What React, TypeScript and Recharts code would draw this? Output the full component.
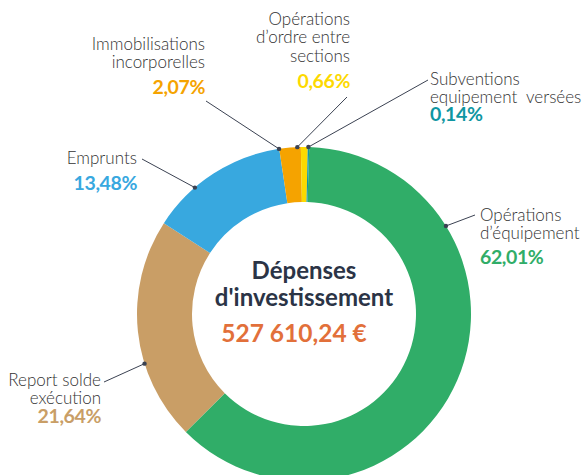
import React from "react";
import { PieChart, Pie, Cell, Label } from "recharts";

// ---- data ----
const categories = [
  "Opérations d'équipement",
  "Report solde exécution",
  "Emprunts",
  "Immobilisations incorporelles",
  "Opérations d'ordre entre sections",
  "Subventions equipement versées",
];
const values = [62.01, 21.64, 13.48, 2.07, 0.66, 0.14];
const percentLabels = ["62,01%", "21,64%", "13,48%", "2,07%", "0,66%", "0,14%"];
const labelTextLines = [
  ["Opérations", "d\u2019équipement"],
  ["Report solde", "exécution"],
  ["Emprunts"],
  ["Immobilisations", "incorporelles"],
  ["Opérations", "d\u2019ordre entre", "sections"],
  ["Subventions", "equipement  versées"],
];
const sliceColors = ["#30ad68", "#c99e66", "#38a8df", "#f5a300", "#fdd900", "#0f96a2"];
const percentColors = ["#30ad68", "#c99e66", "#38a8df", "#f5a300", "#fdd900", "#0f96a2"];
const centerTitle = ["Dépenses", "d'investissement"];
const centerAmount = "527 610,24 €";

// ---- label layout (positions, not data) ----
type Lay = {
  anchor: "start" | "end";
  x: number;
  y: number;
  pctY: number;
  lx: number;
  ly: number;
  dotAngle: number; // clockwise from top, degrees
};
const labelLayout: Lay[] = [
  { anchor: "start", x: 480, y: 221, pctY: 264, lx: 475, ly: 215, dotAngle: 58.2 },
  { anchor: "end", x: 101, y: 386, pctY: 423, lx: 104, ly: 382, dotAngle: 252.7 },
  { anchor: "end", x: 137, y: 164, pctY: 190, lx: 142, ly: 159, dotAngle: 319.2 },
  { anchor: "end", x: 205, y: 50, pctY: 94, lx: 206, ly: 101, dotAngle: 351.4 },
  { anchor: "end", x: 350, y: 25, pctY: 88, lx: 347, ly: 97, dotAngle: 357.7 },
  { anchor: "start", x: 430, y: 85, pctY: 121, lx: 428, ly: 80, dotAngle: 1.5 },
];

const chartData = categories.map((name, i) => ({ name, value: values[i] }));

const FONT = "Lato, 'Open Sans', sans-serif";

const renderLabel = (props: any) => {
  const { cx, cy, outerRadius, index } = props;
  const lay = labelLayout[index];
  const a = (lay.dotAngle * Math.PI) / 180;
  const px = cx + outerRadius * Math.sin(a);
  const py = cy - outerRadius * Math.cos(a);
  const lines = labelTextLines[index];
  return (
    <g key={`lbl-${index}`}>
      <line x1={lay.lx} y1={lay.ly} x2={px} y2={py} stroke="#3b4252" strokeWidth={1} />
      <circle cx={px} cy={py} r={2.2} fill="#3b4252" />
      {lines.map((t, k) => (
        <text
          key={k}
          x={lay.x}
          y={lay.y + k * 18.3}
          textAnchor={lay.anchor}
          fontFamily={FONT}
          fontSize={17}
          fontWeight={300}
          fill="#333333"
          style={{ whiteSpace: "pre" }}
        >
          {t}
        </text>
      ))}
      <text
        x={lay.x}
        y={lay.pctY}
        textAnchor={lay.anchor}
        fontFamily={FONT}
        fontSize={19.5}
        fontWeight={700}
        letterSpacing={-0.4}
        fill={percentColors[index]}
      >
        {percentLabels[index]}
      </text>
    </g>
  );
};

const CenterContent = (props: any) => {
  const vb = props.viewBox || {};
  const cx = vb.cx ?? 304;
  const cy = vb.cy ?? 314;
  return (
    <g>
      <text x={cx} y={cy - 35} textAnchor="middle" fontFamily={FONT} fontSize={24} fontWeight={700} fill="#2b3446">
        {centerTitle[0]}
      </text>
      <text x={cx} y={cy - 8.5} textAnchor="middle" fontFamily={FONT} fontSize={24} fontWeight={700} fill="#2b3446">
        {centerTitle[1]}
      </text>
      <text x={cx - 10} y={cy + 28} textAnchor="middle" fontFamily={FONT} fontSize={24.5} fontWeight={700} fill="#e2703a">
        {centerAmount}
      </text>
    </g>
  );
};

export default function App() {
  return (
    <div style={{ position: "absolute", left: 0, top: 0, width: 582, height: 475, background: "#fff" }}>
      <PieChart width={582} height={475} margin={{ top: 0, right: 0, bottom: 0, left: 0 }}>
        <Pie
          data={chartData}
          dataKey="value"
          nameKey="name"
          cx={304}
          cy={314}
          innerRadius={112}
          outerRadius={167}
          startAngle={88.2}
          endAngle={-271.8}
          stroke="none"
          isAnimationActive={false}
          label={renderLabel}
          labelLine={false}
        >
          {chartData.map((d, i) => (
            <Cell key={d.name} fill={sliceColors[i]} />
          ))}
          <Label position="center" content={CenterContent} />
        </Pie>
      </PieChart>
    </div>
  );
}
